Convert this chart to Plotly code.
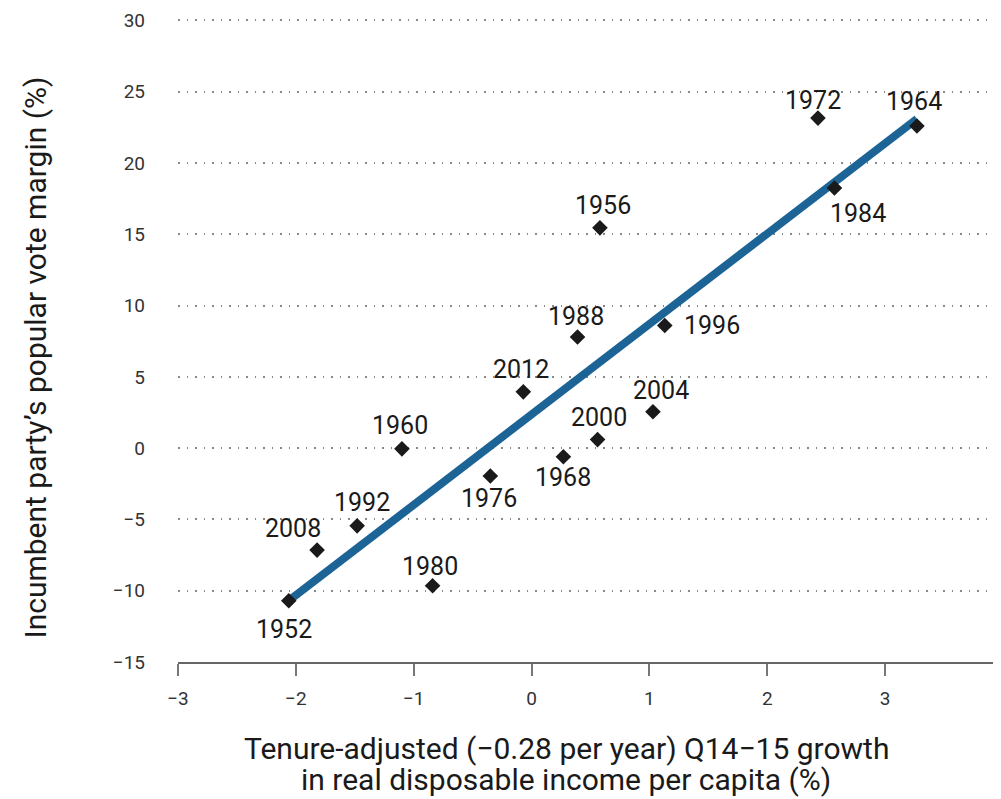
import plotly.graph_objects as go

# election years and their (x, y) values
years = ["1952", "2008", "1992", "1960", "1980", "1976", "2012", "1968",
         "1988", "2000", "1956", "1996", "2004", "1972", "1984", "1964"]
income_growth = [-2.06, -1.82, -1.48, -1.10, -0.84, -0.35, -0.07, 0.27,
                 0.39, 0.56, 0.58, 1.13, 1.03, 2.43, 2.57, 3.27]
vote_margin = [-10.7, -7.15, -5.45, -0.05, -9.65, -1.95, 3.95, -0.6,
               7.8, 0.6, 15.45, 8.6, 2.55, 23.15, 18.25, 22.6]

# fitted line end points
fit_x = [-2.06, 3.27]
fit_y = [-10.7, 23.1]

x_ticks = [-3, -2, -1, 0, 1, 2, 3, 4]
y_ticks = [-15, -10, -5, 0, 5, 10, 15, 20, 25, 30]

# pixel offset of each year label from its marker (dx right, dy down)
label_offset = [(-5, 29), (-24, -22), (5, -23), (-2, -23), (-3, -19), (-1, 23),
                (-2, -22), (0, 21), (-2, -20), (1, -22), (3, -22), (47, 0),
                (8, -21), (-5, -18), (24, 26), (-3, -24)]

fig = go.Figure()
fig.add_trace(go.Scatter(x=fit_x, y=fit_y, mode="lines",
                         line=dict(color="#1c6396", width=8), hoverinfo="skip"))
fig.add_trace(go.Scatter(
    x=income_growth, y=vote_margin, mode="markers",
    marker=dict(symbol="diamond", size=12, color="#1a1a1a"),
))

for yr, xv, yv, (dx, dy) in zip(years, income_growth, vote_margin, label_offset):
    fig.add_annotation(x=xv, y=yv, text=yr, showarrow=False,
                       xshift=dx, yshift=-dy,
                       font=dict(family="Roboto, Arial, sans-serif", size=25, color="#1a1a1a"))

# axis titles as annotations so they can sit where the original puts them
title_font = dict(family="Roboto, Arial, sans-serif", size=30, color="#1a1a1a")
fig.add_annotation(xref="paper", yref="paper", x=0, y=0, xshift=388, yshift=-86,
                   xanchor="center", yanchor="middle",
                   text="Tenure-adjusted (\u22120.28 per year) Q14\u221215 growth",
                   showarrow=False, font=title_font)
fig.add_annotation(xref="paper", yref="paper", x=0, y=0, xshift=388, yshift=-117,
                   xanchor="center", yanchor="middle",
                   text="in real disposable income per capita (%)",
                   showarrow=False, font=title_font)
fig.add_annotation(xref="paper", yref="paper", x=0, y=0.5, xshift=-143, yshift=-17,
                   xanchor="center", yanchor="middle",
                   text="Incumbent party\u2019s popular vote margin (%)", textangle=-90,
                   showarrow=False, font=title_font)

# the page body adds 8px of margin, so the figure is shifted by that much
fig.update_layout(
    width=1001, height=791,
    margin=dict(l=170, r=0, t=11, b=137),
    paper_bgcolor="white", plot_bgcolor="white",
    showlegend=False,
    font=dict(family="Roboto, Arial, sans-serif", color="#333"),
)
fig.update_xaxes(
    range=[-3, 4], tickvals=x_ticks,
    ticktext=[str(v).replace("-", "\u2212") for v in x_ticks],
    showgrid=False, zeroline=False,
    showline=True, linecolor="#666", linewidth=2,
    ticks="outside", ticklen=12, tickwidth=1.5, tickcolor="#777",
    tickfont=dict(size=19, color="#333"), ticklabelstandoff=6,
    ticklabeloverflow="allow",
)
fig.update_yaxes(
    range=[-15, 30.1], tickvals=y_ticks,
    ticktext=[str(v).replace("-", "\u2212") for v in y_ticks],
    showgrid=True, gridcolor="#888", gridwidth=1.5, griddash="1.5px,7px",
    zeroline=False, showline=False, ticks="",
    tickfont=dict(size=19, color="#333"), ticklabelstandoff=32,
)

fig.write_html("out.html")
